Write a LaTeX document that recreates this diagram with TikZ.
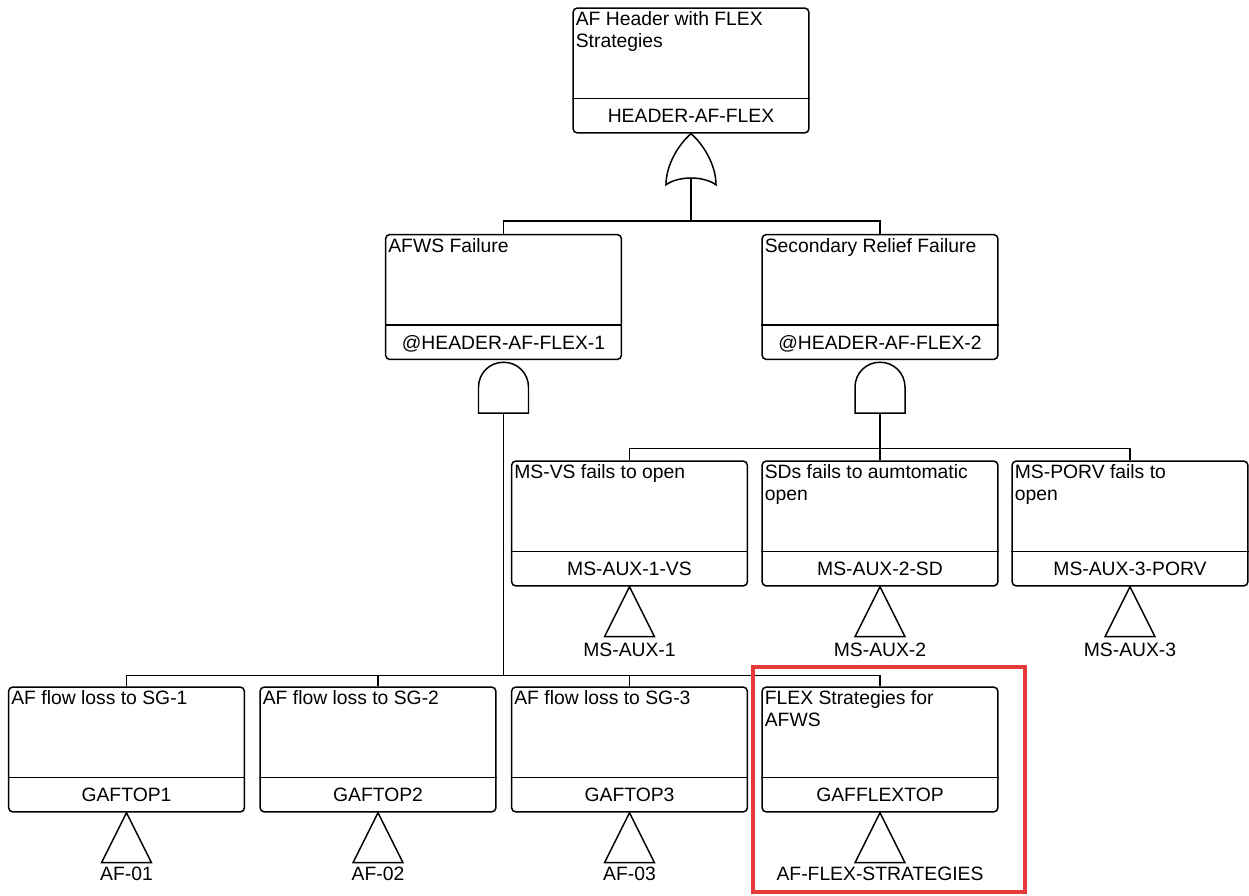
\documentclass[tikz,border=0pt]{standalone}
\usepackage{fontspec}
\setmainfont{Liberation Sans}
\definecolor{hlred}{RGB}{230,57,57}

\tikzset{
  event/.style={draw, rounded corners=2.5pt, minimum width=4.72cm, minimum height=2.5cm, inner sep=0pt},
  desc/.style={anchor=north west, align=left, inner xsep=1.6pt, inner ysep=2.2pt},
  ident/.style={anchor=base},
  tname/.style={anchor=base, inner sep=0pt},
  highlight/.style={draw=hlred, line width=2.3pt},
}

\begin{document}
\begin{tikzpicture}[x=0.02cm, y=-0.02cm, line width=0.85pt, font=\fontsize{11}{12.5}\selectfont]
    \useasboundingbox (0,0) rectangle (1249,896);

    % Top event
    \node[event] (hdr) at (691,70.5) {};
    \node[desc] (hdrd) at (hdr.north west) {AF Header with FLEX\\Strategies};
    \draw ([yshift=0.7cm]hdr.south west) -- ([yshift=0.7cm]hdr.south east);
    \node[ident] (hdri) at ([yshift=0.22cm]hdr.south) {HEADER-AF-FLEX};

    % OR gate
    \coordinate (hdrgate) at (hdr.south);
    \draw (hdrgate) .. controls +(-12,10) and +(0,-20) .. ([shift={(-25,51)}]hdrgate)
        .. controls +(13,-9) and +(-13,-9) .. ([shift={(25,51)}]hdrgate)
        .. controls +(0,-20) and +(12,10) .. (hdrgate);
    \coordinate (hdrout) at ([shift={(0,44)}]hdrgate);

    % Second level
    \node[event] (afws) at (503.5,297) {};
    \node[desc] (afwsd) at (afws.north west) {AFWS Failure};
    \draw ([yshift=0.7cm]afws.south west) -- ([yshift=0.7cm]afws.south east);
    \node[ident] (afwsi) at ([yshift=0.22cm]afws.south) {@HEADER-AF-FLEX-1};

    \node[event] (sec) at (880,297) {};
    \node[desc] (secd) at (sec.north west) {Secondary Relief Failure};
    \draw ([yshift=0.7cm]sec.south west) -- ([yshift=0.7cm]sec.south east);
    \node[ident] (seci) at ([yshift=0.22cm]sec.south) {@HEADER-AF-FLEX-2};

    \draw (afws.north) -- ++(0,-13) -| (hdrout);
    \draw (sec.north) -- ++(0,-13) -| (hdrout);

    % AND gates
    \coordinate (afwsgate) at (afws.south);
    \draw ([shift={(-25,53)}]afwsgate) -- ([shift={(-25,27)}]afwsgate)
        .. controls +(0,-14) and +(-14,0) .. ([shift={(0,2)}]afwsgate)
        .. controls +(14,0) and +(0,-14) .. ([shift={(25,27)}]afwsgate)
        -- ([shift={(25,53)}]afwsgate) -- cycle;
    \coordinate (afwsin) at ([shift={(0,53)}]afwsgate);

    \coordinate (secgate) at (sec.south);
    \draw ([shift={(-25,53)}]secgate) -- ([shift={(-25,27)}]secgate)
        .. controls +(0,-14) and +(-14,0) .. ([shift={(0,2)}]secgate)
        .. controls +(14,0) and +(0,-14) .. ([shift={(25,27)}]secgate)
        -- ([shift={(25,53)}]secgate) -- cycle;
    \coordinate (secin) at ([shift={(0,53)}]secgate);

    % Third level
    \node[event] (msvs) at (629.5,523.5) {};
    \node[desc] (msvsd) at (msvs.north west) {MS-VS fails to open};
    \draw ([yshift=0.7cm]msvs.south west) -- ([yshift=0.7cm]msvs.south east);
    \node[ident] (msvsi) at ([yshift=0.22cm]msvs.south) {MS-AUX-1-VS};

    \node[event] (sds) at (880,523.5) {};
    \node[desc] (sdsd) at (sds.north west) {SDs fails to aumtomatic\\open};
    \draw ([yshift=0.7cm]sds.south west) -- ([yshift=0.7cm]sds.south east);
    \node[ident] (sdsi) at ([yshift=0.22cm]sds.south) {MS-AUX-2-SD};

    \node[event] (porv) at (1130,523.5) {};
    \node[desc] (porvd) at (porv.north west) {MS-PORV fails to\\open};
    \draw ([yshift=0.7cm]porv.south west) -- ([yshift=0.7cm]porv.south east);
    \node[ident] (porvi) at ([yshift=0.22cm]porv.south) {MS-AUX-3-PORV};

    \draw (msvs.north) -- ++(0,-12) -| (secin);
    \draw (sds.north) -- ++(0,-12) -| (secin);
    \draw (porv.north) -- ++(0,-12) -| (secin);

    % Transfers
    \draw (msvs.south) -- ++(-25,50) -- ++(50,0) -- cycle;
    \node[tname] (msvst) at ([yshift=-1.4cm]msvs.south) {MS-AUX-1};
    \draw (sds.south) -- ++(-25,50) -- ++(50,0) -- cycle;
    \node[tname] (sdst) at ([yshift=-1.4cm]sds.south) {MS-AUX-2};
    \draw (porv.south) -- ++(-25,50) -- ++(50,0) -- cycle;
    \node[tname] (porvt) at ([yshift=-1.4cm]porv.south) {MS-AUX-3};

    % Bottom level
    \node[event] (g1) at (126.5,749.5) {};
    \node[desc] (g1d) at (g1.north west) {AF flow loss to SG-1};
    \draw ([yshift=0.7cm]g1.south west) -- ([yshift=0.7cm]g1.south east);
    \node[ident] (g1i) at ([yshift=0.22cm]g1.south) {GAFTOP1};

    \node[event] (g2) at (378,749.5) {};
    \node[desc] (g2d) at (g2.north west) {AF flow loss to SG-2};
    \draw ([yshift=0.7cm]g2.south west) -- ([yshift=0.7cm]g2.south east);
    \node[ident] (g2i) at ([yshift=0.22cm]g2.south) {GAFTOP2};

    \node[event] (g3) at (629.5,749.5) {};
    \node[desc] (g3d) at (g3.north west) {AF flow loss to SG-3};
    \draw ([yshift=0.7cm]g3.south west) -- ([yshift=0.7cm]g3.south east);
    \node[ident] (g3i) at ([yshift=0.22cm]g3.south) {GAFTOP3};

    \node[event] (flex) at (880,749.5) {};
    \node[desc] (flexd) at (flex.north west) {FLEX Strategies for\\AFWS};
    \draw ([yshift=0.7cm]flex.south west) -- ([yshift=0.7cm]flex.south east);
    \node[ident] (flexi) at ([yshift=0.22cm]flex.south) {GAFFLEXTOP};

    \draw (g1.north) -- ++(0,-11) -| (afwsin);
    \draw (g2.north) -- ++(0,-11) -| (afwsin);
    \draw (g3.north) -- ++(0,-11) -| (afwsin);
    \draw (flex.north) -- ++(0,-11) -| (afwsin);

    \draw (g1.south) -- ++(-25,50) -- ++(50,0) -- cycle;
    \node[tname] (g1t) at ([yshift=-1.36cm]g1.south) {AF-01};
    \draw (g2.south) -- ++(-25,50) -- ++(50,0) -- cycle;
    \node[tname] (g2t) at ([yshift=-1.36cm]g2.south) {AF-02};
    \draw (g3.south) -- ++(-25,50) -- ++(50,0) -- cycle;
    \node[tname] (g3t) at ([yshift=-1.36cm]g3.south) {AF-03};
    \draw (flex.south) -- ++(-25,50) -- ++(50,0) -- cycle;
    \node[tname] (flext) at ([yshift=-1.36cm]flex.south) {AF-FLEX-STRATEGIES};

    % Highlight
    \draw[highlight] (753,667) rectangle (1025,892);
\end{tikzpicture}
\end{document}
